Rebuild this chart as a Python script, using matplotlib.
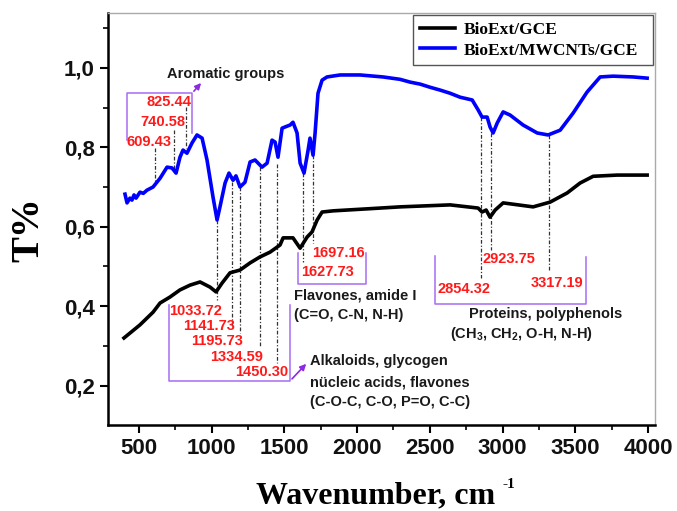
import numpy as np
import matplotlib.pyplot as plt
from matplotlib.ticker import MultipleLocator, FuncFormatter

plt.rcParams['mathtext.fontset'] = 'custom'
plt.rcParams['mathtext.rm'] = 'Liberation Sans:bold'
plt.rcParams['mathtext.bf'] = 'Liberation Sans:bold'

# blue curve, BioExt/MWCNTs/GCE
wn_blue = [404, 418, 438, 452, 466, 480, 507, 530, 555, 597, 645, 693, 727, 755, 782, 803,
           830, 865, 899, 934, 968, 1009, 1037, 1057, 1092, 1119, 1147, 1167, 1195, 1229,
           1264, 1298, 1346, 1381, 1415, 1436, 1456, 1484, 1504, 1539, 1559, 1587, 1608,
           1635, 1663, 1676, 1697, 1711, 1731, 1759, 1793, 1883, 2020, 2178, 2295, 2364,
           2433, 2502, 2570, 2639, 2708, 2791, 2832, 2859, 2894, 2914, 2935, 2963, 3004,
           3052, 3141, 3238, 3313, 3396, 3485, 3581, 3671, 3760, 3898, 3994]
t_blue = [0.682, 0.660, 0.672, 0.667, 0.680, 0.672, 0.687, 0.684, 0.692, 0.700, 0.722,
          0.750, 0.748, 0.735, 0.775, 0.793, 0.785, 0.811, 0.831, 0.823, 0.768, 0.675,
          0.617, 0.650, 0.710, 0.735, 0.717, 0.728, 0.700, 0.712, 0.763, 0.768, 0.750,
          0.760, 0.818, 0.813, 0.775, 0.848, 0.851, 0.856, 0.863, 0.836, 0.760, 0.735,
          0.793, 0.823, 0.780, 0.836, 0.936, 0.969, 0.977, 0.982, 0.982, 0.977, 0.971,
          0.964, 0.959, 0.951, 0.944, 0.936, 0.926, 0.919, 0.894, 0.876, 0.876, 0.851,
          0.836, 0.861, 0.889, 0.881, 0.856, 0.836, 0.831, 0.843, 0.886, 0.939, 0.977,
          0.979, 0.977, 0.974]

# black curve, BioExt/GCE
wn_black = [397, 507, 597, 645, 713, 782, 851, 920, 989, 1030, 1071, 1126, 1195, 1264,
            1332, 1401, 1470, 1491, 1559, 1608, 1656, 1690, 1725, 1759, 1835, 2068, 2295,
            2639, 2832, 2859, 2887, 2914, 2949, 3004, 3210, 3327, 3444, 3533, 3623, 3788,
            3994]
t_black = [0.320, 0.353, 0.385, 0.408, 0.423, 0.441, 0.453, 0.461, 0.448, 0.436, 0.458,
           0.484, 0.491, 0.509, 0.524, 0.536, 0.554, 0.572, 0.572, 0.546, 0.574, 0.587,
           0.617, 0.637, 0.640, 0.645, 0.650, 0.655, 0.647, 0.637, 0.642, 0.624, 0.642,
           0.660, 0.650, 0.662, 0.685, 0.710, 0.727, 0.730, 0.730]

# marked bands
peaks = [609.43, 740.58, 825.44, 1033.72, 1141.73, 1195.73, 1334.59, 1450.30,
         1627.73, 1697.16, 2854.32, 2923.75, 3317.19]
peak_labels = ['609.43', '740.58', '825.44', '1033.72', '1141.73', '1195.73', '1334.59',
               '1450.30', '1627.73', '1697.16', '2854.32', '2923.75', '3317.19']
# drop line extents and label anchors (right edge, centre)
drop_top = [0.798, 0.843, 0.901, 0.617, 0.713, 0.700, 0.750, 0.758, 0.735, 0.780, 0.876, 0.836, 0.831]
drop_bot = [0.705, 0.743, 0.798, 0.416, 0.348, 0.333, 0.297, 0.257, 0.511, 0.560, 0.471, 0.541, 0.491]
lab_x = [727, 817, 858, 1071, 1160, 1216, 1353, 1525, 1979, 2055, 2914, 3224, 3554]
lab_y = [0.814, 0.863, 0.914, 0.387, 0.350, 0.312, 0.272, 0.234, 0.486, 0.534, 0.443, 0.519, 0.458]

fig = plt.figure(figsize=(6.77, 5.11), dpi=100)
ax = fig.add_axes([0.1595, 0.1683, 0.808, 0.8063])

ax.plot(wn_black, t_black, color='black', lw=2.6, label='BioExt/GCE', zorder=3)
ax.plot(wn_blue, t_blue, color='#0000ff', lw=2.6, label='BioExt/MWCNTs/GCE', zorder=3)

for p, y0, y1 in zip(peaks, drop_top, drop_bot):
    ax.plot([p, p], [y0, y1], color='#333333', lw=0.9, ls=(0, (3, 1.5, 1, 1.5)), zorder=2)

for s, x, y in zip(peak_labels, lab_x, lab_y):
    ax.text(x, y, s, color='#ff1a1a', fontsize=10.5, fontweight='bold',
            family='Liberation Sans', ha='right', va='center', zorder=4)

purple = '#a66cf2'
ax.plot([418, 418, 865, 865], [0.818, 0.936, 0.936, 0.836], color=purple, lw=1.1)
ax.plot([707, 707, 1539, 1539], [0.403, 0.212, 0.212, 0.403], color=purple, lw=1.1)
ax.plot([1594, 1594, 2062, 2062], [0.534, 0.456, 0.456, 0.534], color=purple, lw=1.1)
ax.plot([2536, 2536, 3575, 3575], [0.526, 0.406, 0.406, 0.524], color=purple, lw=1.1)
arrow = dict(arrowstyle='-|>', color='#8a2be2', lw=1.2, mutation_scale=9)
ax.annotate('', xy=(940, 0.967), xytext=(865, 0.936), arrowprops=arrow)
ax.annotate('', xy=(1663, 0.260), xytext=(1539, 0.212), arrowprops=arrow)

note = dict(color='#1a1a1a', fontsize=10.5, fontweight='bold', family='Liberation Sans',
            ha='left', va='center')
ax.text(693, 0.984, 'Aromatic groups', **note)
ax.text(1566, 0.426, 'Flavones, amide I', **note)
ax.text(1566, 0.377, '(C=O, C-N, N-H)', **note)
ax.text(1676, 0.262, 'Alkaloids, glycogen', **note)
ax.text(1676, 0.209, 'nücleic acids, flavones', **note)
ax.text(1676, 0.159, '(C-O-C, C-O, P=O, C-C)', **note)
ax.text(2770, 0.380, 'Proteins, polyphenols', **note)
ax.text(2639, 0.330, r'(CH$_3$, CH$_2$, O-H, N-H)', **note)

ax.set_xlim(287, 4048)
ax.set_ylim(0.101, 1.138)
ax.xaxis.set_major_locator(MultipleLocator(500))
ax.xaxis.set_minor_locator(MultipleLocator(250))
ax.yaxis.set_major_locator(MultipleLocator(0.2))
ax.yaxis.set_minor_locator(MultipleLocator(0.1))
ax.yaxis.set_major_formatter(FuncFormatter(lambda v, pos: f'{v:.1f}'.replace('.', ',')))
ax.tick_params(which='major', length=6, width=1.5, direction='out')
ax.tick_params(which='minor', length=3.5, width=1.2, direction='out')
for lab in ax.get_xticklabels() + ax.get_yticklabels():
    lab.set_fontsize(16)
    lab.set_fontweight('bold')
    lab.set_family('Liberation Sans')
    lab.set_color('#111111')

for side in ['left', 'bottom']:
    ax.spines[side].set_linewidth(1.8)
for side in ['top', 'right']:
    ax.spines[side].set_color('#aaaaaa')
    ax.spines[side].set_linewidth(1.0)

leg = ax.legend(loc='upper left', bbox_to_anchor=(0.5576, 0.9952, 0.4387, 0.0), mode='expand',
                borderaxespad=0.0,
                prop={'family': 'Liberation Serif', 'weight': 'bold', 'size': 12.5},
                handlelength=2.0, handletextpad=0.5, labelspacing=0.25, borderpad=0.4,
                fancybox=False, framealpha=1)
leg.get_frame().set_edgecolor('#555555')
leg.get_frame().set_linewidth(1.0)

fig.text(29 / 677, 1 - 230 / 511, 'T%', rotation=90, ha='center', va='center',
         family='Liberation Serif', fontweight='bold', fontsize=28)
fig.text(376 / 677, 1 - 503 / 511, 'Wavenumber, cm', ha='center', va='baseline',
         family='Liberation Serif', fontweight='bold', fontsize=23)
fig.text(509 / 677, 1 - 484 / 511, '-1', ha='center', va='center',
         family='Liberation Serif', fontweight='bold', fontsize=11)

fig.savefig('out.png', dpi=100)
